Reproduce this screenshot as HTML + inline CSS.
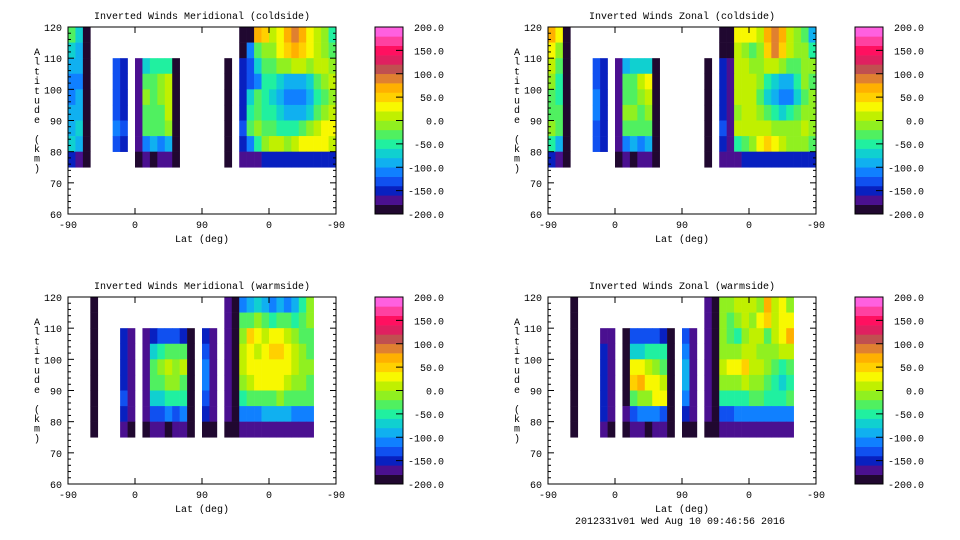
<!DOCTYPE html>
<html><head><meta charset="utf-8"><style>
html,body{margin:0;padding:0;background:#fff;}
svg{display:block;font-family:"Liberation Mono","DejaVu Sans Mono",monospace;}
</style></head><body>
<svg id="root" width="960" height="540" viewBox="0 0 960 540">
<text x="680" y="524" font-size="10" text-anchor="middle">2012331v01 Wed Aug 10 09:46:56 2016</text>
</svg>
<script>
const _ = null;
const levelColors = ['#200830','#4a1090','#0820c0','#1050f0','#1080ff','#10b0f0','#10d0d0','#20f0a0','#50f060','#90f020','#c0f000','#f8f800','#ffd000','#ffb000','#e08030','#c05050','#e02060','#ff1060','#ff40a0','#ff60e0'];
const cbTickValues = [200,150,100,50,0,-50,-100,-150,-200];
const cbTickLabels = ['200.0','150.0','100.0','50.0','0.0','-50.0','-100.0','-150.0','-200.0'];
const xTickValues = [0,90,180,270,360];
const xTickLabels = ['-90','0','90','0','-90'];
const yTickValues = [60,70,80,90,100,110,120];
const altBins = [115,110,105,100,95,90,85,80,75];
const panelTitles = ['Inverted Winds Meridional (coldside)','Inverted Winds Zonal (coldside)','Inverted Winds Meridional (warmside)','Inverted Winds Zonal (warmside)'];

const merCold = [
[-40,-80,-200,_,_,_,_,_,_,_,_,_,_,_,_,_,_,_,_,_,_,_,_,-200,-200,60,40,0,20,60,80,60,20,0,-20,-60],
[-80,-100,-200,_,_,_,_,_,_,_,_,_,_,_,_,_,_,_,_,_,_,_,_,-200,-120,-40,-20,-20,20,40,60,40,20,0,-20,-40],
[-100,-100,-200,_,_,_,-140,-160,_,-180,-80,-60,-60,-60,-200,_,_,_,_,_,_,-200,_,-160,-140,-80,-40,-40,-20,-20,0,0,-20,0,0,-20],
[-110,-110,-200,_,_,_,-140,-150,_,-180,-40,-40,-20,10,-200,_,_,_,_,_,_,-200,_,-160,-140,-120,-60,-60,-80,-100,-100,-100,-80,-40,-20,0],
[-110,-100,-200,_,_,_,-140,-150,_,-180,-20,-40,-20,10,-200,_,_,_,_,_,_,-200,_,-160,-80,-40,-60,-80,-100,-110,-110,-110,-100,-60,-40,-10],
[-100,-90,-200,_,_,_,-140,-150,_,-180,-30,-30,-30,0,-200,_,_,_,_,_,_,-200,_,-150,-60,-30,-60,-60,-80,-100,-100,-90,-80,-40,-20,0],
[-90,-80,-200,_,_,_,-120,-140,_,-180,-40,-40,-40,-20,-200,_,_,_,_,_,_,-200,_,-140,-40,-20,-40,-40,-60,-60,-60,-40,-20,0,20,20],
[-80,-100,-200,_,_,_,-140,-160,_,-180,-120,-100,-120,-100,-200,_,_,_,_,_,_,-200,_,-150,-120,-60,-20,0,0,-20,0,20,20,20,20,0],
[-160,-170,-200,_,_,_,_,_,_,-190,-180,-190,-170,-180,-200,_,_,_,_,_,_,-200,_,-180,-180,-170,-150,-150,-150,-150,-150,-150,-150,-150,-150,-150]
];
const zonCold = [
[60,20,-200,_,_,_,_,_,_,_,_,_,_,_,_,_,_,_,_,_,_,_,_,-200,-200,20,20,20,0,60,80,60,0,-20,-40,-100],
[20,-20,-200,_,_,_,_,_,_,_,_,_,_,_,_,_,_,_,_,_,_,_,_,-200,-200,0,-20,-40,-20,40,80,40,0,-20,-20,-60],
[0,-40,-200,_,_,_,-140,-160,_,-180,-100,-80,-80,-80,-200,_,_,_,_,_,_,-200,_,-160,-180,0,0,-20,-20,0,0,-20,-40,-40,-20,-20],
[-20,-60,-200,_,_,_,-130,-150,_,-180,-40,-40,0,20,-200,_,_,_,_,_,_,-200,_,-160,-180,0,10,0,-20,-60,-80,-100,-100,-60,-20,-40],
[-40,-60,-200,_,_,_,-120,-150,_,-180,-40,-40,-20,0,-200,_,_,_,_,_,_,-200,_,-160,-180,0,10,0,-40,-80,-100,-110,-110,-80,-40,-20],
[-40,-40,-200,_,_,_,-120,-150,_,-180,-20,-20,-40,-20,-200,_,_,_,_,_,_,-200,_,-150,-180,-10,0,0,-20,-40,-60,-80,-60,-40,-20,-20],
[-20,-40,-200,_,_,_,-130,-150,_,-180,-40,-40,-40,-40,-200,_,_,_,_,_,_,-200,_,-140,-180,0,10,10,0,0,-20,-20,-20,-20,0,-20],
[-60,-100,-200,_,_,_,-140,-160,_,-180,-120,-100,-120,-100,-200,_,_,_,_,_,_,-200,_,-150,-180,-60,-40,-20,20,40,20,0,-20,-20,-20,-40],
[-160,-170,-200,_,_,_,_,_,_,-190,-180,-190,-170,-180,-200,_,_,_,_,_,_,-200,_,-180,-180,-170,-150,-150,-150,-150,-150,-150,-150,-150,-150,-150]
];
const merWarm = [
[_,_,_,-200,_,_,_,_,_,_,_,_,_,_,_,_,_,_,_,_,_,-180,-200,-120,-100,-80,-100,-120,-100,-120,-100,-60,-20,_,_,_],
[_,_,_,-200,_,_,_,_,_,_,_,_,_,_,_,_,_,_,_,_,_,-180,-200,-40,-40,-20,-40,-60,-40,-40,-60,-40,-20,_,_,_],
[_,_,_,-200,_,_,_,-160,-170,_,-180,-150,-140,-140,-140,-150,-190,_,-150,-170,_,-180,-200,-10,40,20,0,20,20,0,-20,-40,-40,_,_,_],
[_,_,_,-200,_,_,_,-150,-170,_,-180,-80,-60,-40,-40,-40,-200,_,-130,-170,_,-180,-200,0,30,10,20,40,50,20,0,-20,-40,_,_,_],
[_,_,_,-200,_,_,_,-150,-170,_,-180,-40,-20,0,-20,0,-200,_,-120,-170,_,-180,-200,10,20,20,20,30,30,20,0,-10,-20,_,_,_],
[_,_,_,-200,_,_,_,-150,-170,_,-180,-40,-40,-20,-20,-30,-200,_,-120,-170,_,-180,-200,-20,0,20,20,20,20,0,-10,-20,-40,_,_,_],
[_,_,_,-200,_,_,_,-140,-170,_,-180,-80,-80,-60,-60,-60,-200,_,-130,-170,_,-180,-200,-60,-40,-40,-40,-40,-20,-40,-40,-40,-40,_,_,_],
[_,_,_,-200,_,_,_,-150,-170,_,-180,-130,-130,-120,-130,-120,-190,_,-150,-170,_,-180,-200,-120,-110,-110,-100,-100,-100,-100,-110,-110,-110,_,_,_],
[_,_,_,-190,_,_,_,-180,-190,_,-190,-180,-180,-190,-180,-180,-190,_,-190,-190,_,-190,-190,-180,-180,-180,-180,-180,-180,-180,-180,-180,-180,_,_,_]
];
const zonWarm = [
[_,_,_,-200,_,_,_,_,_,_,_,_,_,_,_,_,_,_,_,_,_,-180,-200,-20,-20,0,10,10,-20,60,0,20,-10,_,_,_],
[_,_,_,-200,_,_,_,_,_,_,_,_,_,_,_,_,_,_,_,_,_,-180,-200,-20,-40,-20,0,-20,20,40,0,20,20,_,_,_],
[_,_,_,-200,_,_,_,-180,-180,_,-200,-140,-140,-140,-140,-150,-190,_,-140,-170,_,-180,-200,-20,-40,-60,-20,0,0,-40,0,20,60,_,_,_],
[_,_,_,-200,_,_,_,-160,-170,_,-200,-80,-80,-60,-60,-60,-200,_,-120,-170,_,-180,-200,-20,-20,-20,0,0,-20,-20,-20,0,0,_,_,_],
[_,_,_,-200,_,_,_,-150,-170,_,-200,20,20,0,-20,-40,-200,_,-100,-170,_,-180,-200,0,20,20,40,0,0,-20,-40,-60,-40,_,_,_],
[_,_,_,-200,_,_,_,-150,-170,_,-200,40,60,20,20,0,-200,_,-100,-170,_,-180,-200,-20,-20,-20,0,-20,-20,-40,-60,-80,-60,_,_,_],
[_,_,_,-200,_,_,_,-150,-170,_,-200,-40,-20,-10,20,20,-200,_,-120,-170,_,-180,-200,-60,-60,-60,-60,-40,-40,-60,-60,-60,-40,_,_,_],
[_,_,_,-200,_,_,_,-150,-170,_,-180,-140,-120,-110,-120,-130,-190,_,-150,-170,_,-180,-200,-130,-130,-120,-120,-120,-120,-110,-110,-110,-110,_,_,_],
[_,_,_,-190,_,_,_,-180,-190,_,-190,-180,-180,-190,-180,-180,-190,_,-190,-190,_,-190,-190,-180,-180,-180,-180,-180,-180,-180,-180,-180,-180,_,_,_]
];
const panelData = [merCold, zonCold, merWarm, zonWarm];
const panelOrigins = [[0,0],[480,0],[0,270],[480,270]];

const NS = 'http://www.w3.org/2000/svg';
const root = document.getElementById('root');
function mk(tag, attrs, parent){ const e=document.createElementNS(NS,tag); for(const k in attrs) e.setAttribute(k,attrs[k]); (parent||root).appendChild(e); return e; }

const PL=68, PR=336, PT=27, PB=214;
function xScale(d){ return PL + (PR-PL)*d/360; }
function yScale(a){ return PB - (PB-PT)*(a-60)/60; }
const CBL=375, CBR=403;
function cbScale(v){ return PB - (PB-PT)*(v+200)/400; }
function colorFor(v){ let k=Math.floor((v+200)/20); if(k<0)k=0; if(k>19)k=19; return levelColors[k]; }
const FS = 10;

panelData.forEach((grid, p)=>{
  const [ox, oy] = panelOrigins[p];
  const g = mk('g',{transform:'translate('+ox+','+oy+')'});
  
  
  const t = mk('text',{x:202,y:19,'font-size':FS,'text-anchor':'middle'},g);
  t.textContent = panelTitles[p];
  
  
  const cells = mk('g',{},g);
  
  
  grid.forEach((row, r)=>{
    row.forEach((v, c)=>{
      if(v===null) return;
      const x0=xScale(c*10), x1=xScale((c+1)*10);
      const y0=yScale(altBins[r]+5), y1=yScale(altBins[r]);
      const rc = mk('rect',{x:x0.toFixed(2),y:y0.toFixed(2),width:(x1-x0+0.3).toFixed(2),height:(y1-y0+0.3).toFixed(2),fill:colorFor(v)},cells);
      
      
    });
  });
  const frame = mk('rect',{x:PL,y:PT,width:PR-PL,height:PB-PT,fill:'none',stroke:'#000','stroke-width':1},g);
  
  
  for(let a=60;a<=120;a+=2){
    const y=yScale(a), len=(a%10===0)?6:3;
    mk('line',{x1:PL,x2:PL+len,y1:y,y2:y,stroke:'#000'},g);
    mk('line',{x1:PR,x2:PR-len,y1:y,y2:y,stroke:'#000'},g);
  }
  yTickValues.forEach(a=>{
    const tl = mk('text',{x:62,y:yScale(a)+4,'font-size':FS,'text-anchor':'end'},g);
    tl.textContent = String(a);
    
    
  });
  xTickValues.forEach((d,i)=>{
    const x=xScale(d);
    mk('line',{x1:x,x2:x,y1:PB,y2:PB-6,stroke:'#000'},g);
    mk('line',{x1:x,x2:x,y1:PT,y2:PT+6,stroke:'#000'},g);
    const tl = mk('text',{x:x,y:228,'font-size':FS,'text-anchor':'middle'},g);
    tl.textContent = xTickLabels[i];
    
    
  });
  const xt = mk('text',{x:202,y:242,'font-size':FS,'text-anchor':'middle'},g);
  xt.textContent = 'Lat (deg)';
  
  
  const yt = mk('text',{x:37,y:55,'font-size':FS,'text-anchor':'middle'},g);
  
  
  'Altitude (km)'.split('').forEach((ch,i)=>{
    const ts = mk('tspan',{x:37,y:55+i*9.7},yt);
    ts.textContent = ch;
  });
  const cb = mk('g',{},g);
  
  
  levelColors.forEach((col,k)=>{
    const v0=-200+k*20;
    const ya=cbScale(v0+20), yb=cbScale(v0);
    mk('rect',{x:CBL,y:ya.toFixed(2),width:CBR-CBL,height:(yb-ya+0.3).toFixed(2),fill:col},cb);
  });
  mk('rect',{x:CBL,y:PT,width:CBR-CBL,height:PB-PT,fill:'none',stroke:'#000'},cb);
  cbTickValues.forEach((v,i)=>{
    const y=cbScale(v);
    if(v>-200 && v<200) mk('line',{x1:CBR-7,x2:CBR,y1:y,y2:y,stroke:'#000'},cb);
    const tl = mk('text',{x:444,y:y+4,'font-size':FS,'text-anchor':'end'},cb);
    tl.textContent = cbTickLabels[i];
    
    
  });
});
</script>
</body></html>
